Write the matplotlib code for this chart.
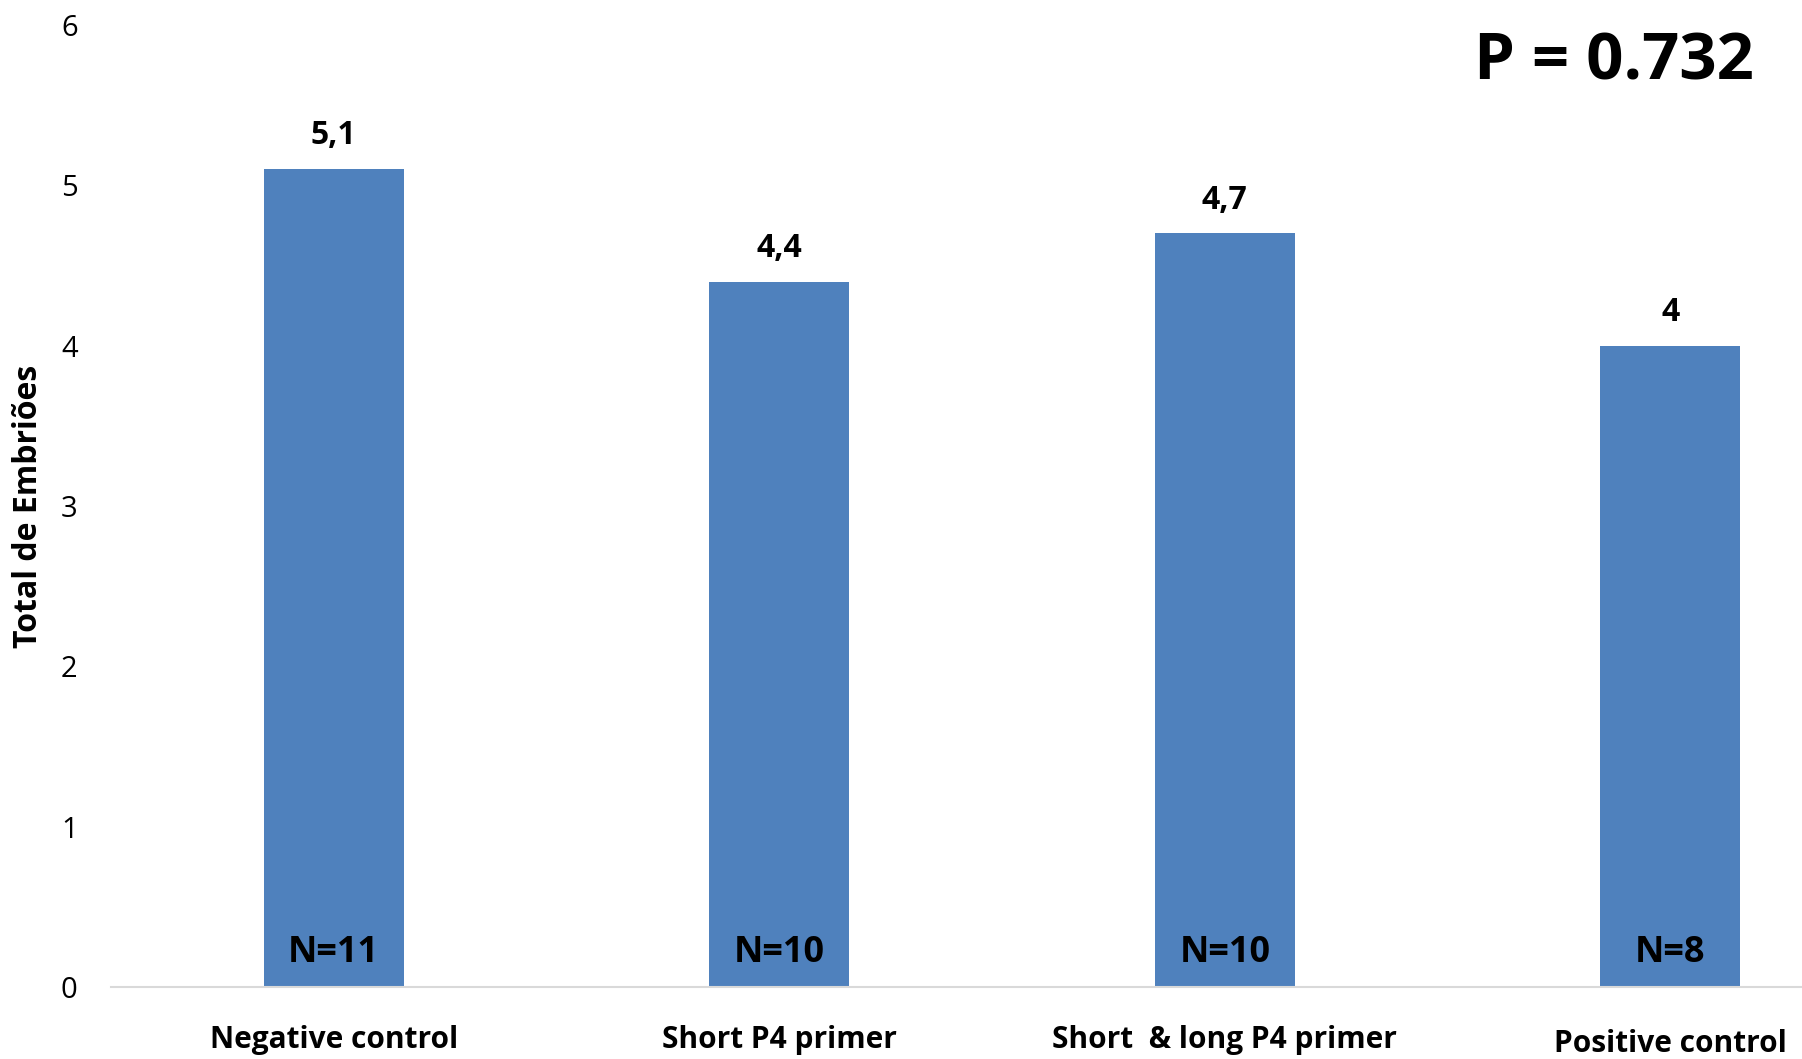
import matplotlib.pyplot as plt

# grupos e medias de embrioes
grupos = ['Negative control', 'Short P4 primer', 'Short  & long P4 primer', 'Positive control']
medias = [5.1, 4.4, 4.7, 4.0]
rotulos = ['5,1', '4,4', '4,7', '4']
n_amostras = ['N=11', 'N=10', 'N=10', 'N=8']
p_valor = 'P = 0.732'

plt.rcParams['font.family'] = ['Open Sans', 'DejaVu Sans']

fig = plt.figure(figsize=(18.02, 10.59), dpi=100)
ax = fig.add_axes([0.0616, 0.068, 0.9889, 0.9084])  # passa da borda direita de proposito

x = range(len(grupos))
barras = ax.bar(x, medias, width=0.315, color='#4F81BD')

ax.set_xlim(-0.5, 3.5)
ax.set_ylim(0, 6)
ax.set_yticks(range(7))
ax.tick_params(axis='y', length=0, pad=24, labelsize=21)
ax.set_xticks([])

for s in ['top', 'right', 'left']:
    ax.spines[s].set_visible(False)
ax.spines['bottom'].set_color('#D9D9D9')
ax.spines['bottom'].set_linewidth(1.5)

# titulo do eixo y
fig.text(29 / 1802, 1 - 506 / 1059, 'Total de Embriões', rotation=90,
         ha='center', va='center', fontsize=23, fontweight='bold')

# valores acima das barras
for b, r in zip(barras, rotulos):
    ax.annotate(r, (b.get_x() + b.get_width() / 2, b.get_height()),
                xytext=(0, 24), textcoords='offset points',
                ha='center', va='center', fontsize=23, fontweight='bold')

# N dentro das barras
for i, n in enumerate(n_amostras):
    ax.text(i, 0.21, n, ha='center', va='center', fontsize=26, fontweight='bold')

# nomes dos grupos embaixo
tr = ax.get_xaxis_transform()
for i, g in enumerate(grupos):
    y = -0.059 if i == 3 else -0.055
    ax.text(i, y, g, transform=tr, ha='center', va='center', fontsize=21.5, fontweight='bold')

fig.text(0.8957, 0.9405, p_valor, ha='center', va='center', fontsize=47, fontweight='bold')

fig.savefig('out.png', dpi=100)
